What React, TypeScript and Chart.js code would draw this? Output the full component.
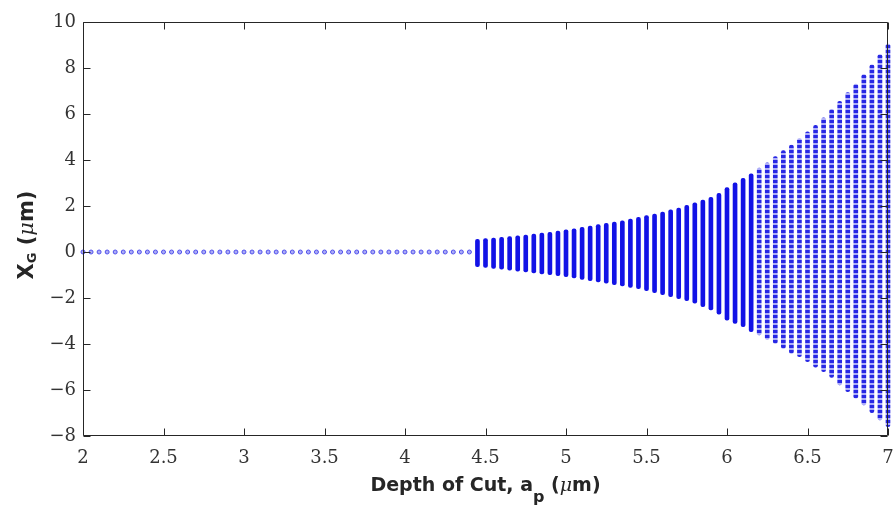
import React, { useEffect, useRef } from 'react';
import { Chart, registerables } from 'chart.js';

Chart.register(...registerables);

// Depth of cut a_p (µm), sampled every 0.05 µm
const depth = [
  2.0, 2.05, 2.1, 2.15, 2.2, 2.25, 2.3, 2.35, 2.4, 2.45,
  2.5, 2.55, 2.6, 2.65, 2.7, 2.75, 2.8, 2.85, 2.9, 2.95,
  3.0, 3.05, 3.1, 3.15, 3.2, 3.25, 3.3, 3.35, 3.4, 3.45,
  3.5, 3.55, 3.6, 3.65, 3.7, 3.75, 3.8, 3.85, 3.9, 3.95,
  4.0, 4.05, 4.1, 4.15, 4.2, 4.25, 4.3, 4.35, 4.4, 4.45,
  4.5, 4.55, 4.6, 4.65, 4.7, 4.75, 4.8, 4.85, 4.9, 4.95,
  5.0, 5.05, 5.1, 5.15, 5.2, 5.25, 5.3, 5.35, 5.4, 5.45,
  5.5, 5.55, 5.6, 5.65, 5.7, 5.75, 5.8, 5.85, 5.9, 5.95,
  6.0, 6.05, 6.1, 6.15, 6.2, 6.25, 6.3, 6.35, 6.4, 6.45,
  6.5, 6.55, 6.6, 6.65, 6.7, 6.75, 6.8, 6.85, 6.9, 6.95,
  7.0,
];

// Largest X_G (µm) sampled at each depth
const xgMax = [
  0, 0, 0, 0, 0, 0, 0, 0, 0, 0,
  0, 0, 0, 0, 0, 0, 0, 0, 0, 0,
  0, 0, 0, 0, 0, 0, 0, 0, 0, 0,
  0, 0, 0, 0, 0, 0, 0, 0, 0, 0,
  0, 0, 0, 0, 0, 0, 0, 0, 0, 0.55,
  0.58, 0.61, 0.64, 0.67, 0.70, 0.74, 0.78, 0.82, 0.86, 0.91,
  0.96, 1.01, 1.07, 1.13, 1.19, 1.25, 1.30, 1.36, 1.43, 1.51,
  1.58, 1.65, 1.74, 1.83, 1.91, 2.03, 2.14, 2.26, 2.38, 2.55,
  2.80, 3.01, 3.20, 3.40, 3.65, 3.88, 4.15, 4.41, 4.65, 4.93,
  5.22, 5.51, 5.83, 6.20, 6.55, 6.93, 7.30, 7.71, 8.14, 8.58,
  9.04,
];

// Smallest X_G (µm) sampled at each depth
const xgMin = [
  0, 0, 0, 0, 0, 0, 0, 0, 0, 0,
  0, 0, 0, 0, 0, 0, 0, 0, 0, 0,
  0, 0, 0, 0, 0, 0, 0, 0, 0, 0,
  0, 0, 0, 0, 0, 0, 0, 0, 0, 0,
  0, 0, 0, 0, 0, 0, 0, 0, 0, -0.64,
  -0.67, -0.71, -0.75, -0.79, -0.83, -0.87, -0.91, -0.95, -0.99, -1.03,
  -1.07, -1.13, -1.19, -1.25, -1.30, -1.36, -1.42, -1.48, -1.54, -1.59,
  -1.68, -1.77, -1.86, -1.94, -2.03, -2.12, -2.23, -2.38, -2.52, -2.70,
  -2.96, -3.10, -3.25, -3.46, -3.61, -3.80, -3.97, -4.19, -4.41, -4.55,
  -4.77, -5.01, -5.20, -5.45, -5.78, -6.07, -6.36, -6.65, -6.99, -7.30,
  -7.59,
];

const xTicks = [2, 2.5, 3, 3.5, 4, 4.5, 5, 5.5, 6, 6.5, 7];
const yTicks = [-8, -6, -4, -2, 0, 2, 4, 6, 8, 10];

const fmt = (v: number) => (v < 0 ? '\u2212' + String(-v) : String(v));

export default function App() {
  const ref = useRef<HTMLCanvasElement>(null);

  useEffect(() => {
    const canvas = ref.current!;
    const pc = document.createElement('canvas');
    pc.width = 1;
    pc.height = 5;
    const pctx = pc.getContext('2d')!;
    pctx.fillStyle = 'rgb(175,175,248)';
    pctx.fillRect(0, 0, 1, 5);
    pctx.fillStyle = 'rgb(40,40,228)';
    pctx.fillRect(0, 0, 1, 3);
    const pattern = canvas.getContext('2d')!.createPattern(pc, 'repeat');

    const steady = depth
      .map((x, i) => ({ x, y: xgMax[i] }))
      .filter((_, i) => xgMax[i] === xgMin[i]);
    const bands = depth
      .map((x, i) => ({ x, y: [xgMin[i], xgMax[i]] }))
      .filter((_, i) => xgMax[i] !== xgMin[i]);

    const frame = {
      id: 'frame',
      afterDraw(chart: any) {
        const { ctx, chartArea, scales } = chart;
        const { left, right, top, bottom } = chartArea;
        ctx.save();
        ctx.strokeStyle = '#262626';
        ctx.lineWidth = 1;
        const L = Math.round(left) + 0.5;
        const R = Math.round(right) - 0.5;
        const T = Math.round(top) + 0.5;
        const B = Math.round(bottom) - 0.5;
        ctx.beginPath();
        ctx.rect(L, T, R - L, B - T);
        ctx.stroke();
        ctx.beginPath();
        const tl = 7;
        xTicks.forEach((v) => {
          const p = Math.round(scales.x.getPixelForValue(v)) + 0.5;
          ctx.moveTo(p, B);
          ctx.lineTo(p, B - tl);
          ctx.moveTo(p, T);
          ctx.lineTo(p, T + tl);
        });
        yTicks.forEach((v) => {
          const p = Math.round(scales.y.getPixelForValue(v)) + 0.5;
          ctx.moveTo(L, p);
          ctx.lineTo(L + tl, p);
          ctx.moveTo(R, p);
          ctx.lineTo(R - tl, p);
        });
        ctx.stroke();

        // axis titles
        const drawSegs = (segs: { t: string; f: string; dy: number }[], cx: number) => {
          let w = 0;
          segs.forEach((s) => {
            ctx.font = s.f;
            w += ctx.measureText(s.t).width;
          });
          let x = cx - w / 2;
          segs.forEach((s) => {
            ctx.font = s.f;
            ctx.fillText(s.t, x, s.dy);
            x += ctx.measureText(s.t).width;
          });
        };
        ctx.fillStyle = '#262626';
        ctx.textBaseline = 'alphabetic';
        ctx.textAlign = 'left';
        const bold = 'bold 19px "DejaVu Sans"';
        ctx.save();
        ctx.translate(0, 491);
        drawSegs(
          [
            { t: 'Depth of Cut, a', f: bold, dy: 0 },
            { t: 'p', f: 'bold 16px "DejaVu Sans"', dy: 11 },
            { t: ' (', f: bold, dy: 0 },
            { t: '\u03BC', f: 'italic 19px "DejaVu Serif"', dy: 0 },
            { t: 'm)', f: bold, dy: 0 },
          ],
          (left + right) / 2
        );
        ctx.restore();
        ctx.save();
        ctx.translate(33, 235);
        ctx.rotate(-Math.PI / 2);
        drawSegs(
          [
            { t: 'X', f: 'bold 21px "DejaVu Sans"', dy: 0 },
            { t: 'G', f: 'bold 13px "DejaVu Sans"', dy: 3 },
            { t: ' (', f: 'bold 21px "DejaVu Sans"', dy: 0 },
            { t: '\u03BC', f: 'italic 21px "DejaVu Serif"', dy: 0 },
            { t: 'm)', f: 'bold 21px "DejaVu Sans"', dy: 0 },
          ],
          0
        );
        ctx.restore();
        ctx.restore();
      },
    };

    const tickFont = { family: '"DejaVu Serif"', size: 18 };

    const chart = new Chart(canvas, {
      type: 'scatter',
      data: {
        datasets: [
          {
            type: 'bar',
            data: bands as any,
            barThickness: 4,
            borderRadius: 2,
            borderSkipped: false,
            backgroundColor: (c: any) =>
              c.raw && c.raw.x > 6.17 ? (pattern as any) : 'rgb(18,18,230)',
            borderWidth: 0,
            clip: false as any,
          } as any,
          {
            type: 'scatter',
            data: steady,
            pointRadius: 2,
            borderWidth: 1,
            borderColor: 'rgb(80,80,235)',
            backgroundColor: 'rgba(150,150,245,0.8)',
            clip: false as any,
          } as any,
        ],
      },
      options: {
        animation: false,
        responsive: false,
        events: [],
        layout: { padding: { top: 22, right: 5, left: 0, bottom: 0 } },
        plugins: { legend: { display: false }, tooltip: { enabled: false } },
        scales: {
          x: {
            type: 'linear',
            min: 2,
            max: 7,
            offset: false,
            grid: { display: false, offset: false, drawTicks: false },
            border: { display: false },
            afterBuildTicks: (s: any) => {
              s.ticks = xTicks.map((v) => ({ value: v }));
            },
            afterFit: (s: any) => {
              s.height = 73;
              s.paddingLeft = 0;
              s.paddingRight = 0;
            },
            ticks: {
              autoSkip: false,
              maxRotation: 0,
              padding: 12,
              color: '#333',
              font: tickFont,
              callback: (v: any) => fmt(Number(v)),
            },
          },
          y: {
            type: 'linear',
            min: -8,
            max: 10,
            grid: { display: false, drawTicks: false },
            border: { display: false },
            afterBuildTicks: (s: any) => {
              s.ticks = yTicks.map((v) => ({ value: v }));
            },
            afterFit: (s: any) => {
              s.width = 83;
              s.paddingTop = 0;
              s.paddingBottom = 0;
            },
            ticks: {
              autoSkip: false,
              padding: 7,
              color: '#333',
              font: tickFont,
              callback: (v: any) => fmt(Number(v)),
            },
          },
        },
      },
      plugins: [frame],
    });

    return () => chart.destroy();
  }, []);

  return (
    <div style={{ position: 'absolute', left: 0, top: 0, width: 893, height: 509, background: '#fff' }}>
      <canvas ref={ref} width={893} height={509} style={{ display: 'block' }} />
    </div>
  );
}
